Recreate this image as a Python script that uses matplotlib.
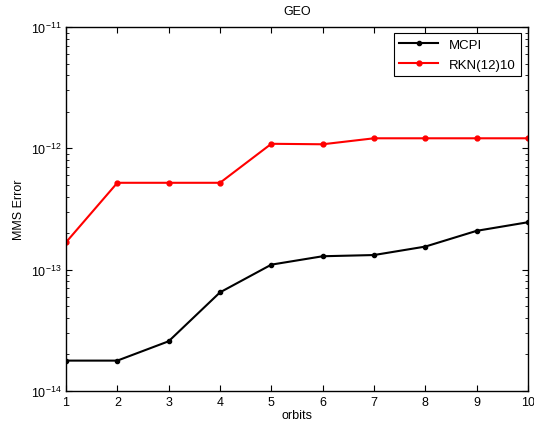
import matplotlib
matplotlib.use("Agg")
import matplotlib.pyplot as plt
from matplotlib.ticker import FixedLocator, NullFormatter, LogFormatterSciNotation

plt.rcParams['font.family'] = ['Liberation Sans', 'DejaVu Sans']
plt.rcParams['mathtext.fontset'] = 'custom'
plt.rcParams['mathtext.rm'] = 'Liberation Sans'
plt.rcParams['mathtext.it'] = 'Liberation Sans'
plt.rcParams['mathtext.default'] = 'regular'

orbits = [1, 2, 3, 4, 5, 6, 7, 8, 9, 10]
mcpi = [1.78e-14, 1.78e-14, 2.57e-14, 6.5e-14, 1.10e-13, 1.29e-13, 1.32e-13, 1.55e-13, 2.09e-13, 2.46e-13]
rkn = [1.68e-13, 5.2e-13, 5.2e-13, 5.2e-13, 1.09e-12, 1.08e-12, 1.21e-12, 1.21e-12, 1.21e-12, 1.21e-12]
yticks = [1e-14, 1e-13, 1e-12, 1e-11]

fig = plt.figure(figsize=(5.34, 4.31), dpi=100)
ax = fig.add_axes([66/534, 1-392/431, (528-66)/534, (392-28)/431])

ax.plot(orbits, mcpi, color='black', marker='.', markersize=6, linewidth=1.5, label='MCPI')
ax.plot(orbits, rkn, color='red', marker='.', markersize=7, linewidth=1.5, label='RKN(12)10')

ax.set_yscale('log')
ax.set_xlim(1, 10)
ax.set_ylim(1e-14, 1e-11)
ax.set_xticks(orbits)
ax.set_yticks(yticks)
ax.yaxis.set_major_formatter(LogFormatterSciNotation())
minors = [m * 10.0**e for e in (-14, -13, -12) for m in range(2, 10)]
ax.yaxis.set_minor_locator(FixedLocator(minors))
ax.yaxis.set_minor_formatter(NullFormatter())

ax.tick_params(which='both', direction='in', top=True, right=True, labelsize=9)
ax.tick_params(which='major', length=4)
ax.tick_params(which='minor', length=2.5)
for s in ax.spines.values():
    s.set_linewidth(1.0)

ax.set_title('GEO', fontsize=9, pad=9)
ax.set_xlabel('orbits', fontsize=9, labelpad=1)
ax.set_ylabel('MMS Error', fontsize=9, labelpad=4)

leg = ax.legend(loc='upper right', fontsize=9.5, frameon=True, fancybox=False,
                edgecolor='black', framealpha=1, handlelength=3.0,
                labelspacing=0.6, borderaxespad=0.0,
                bbox_to_anchor=((521-66)/462, (392-34)/364))
leg.get_frame().set_linewidth(0.8)

fig.savefig('out.png', dpi=100)
